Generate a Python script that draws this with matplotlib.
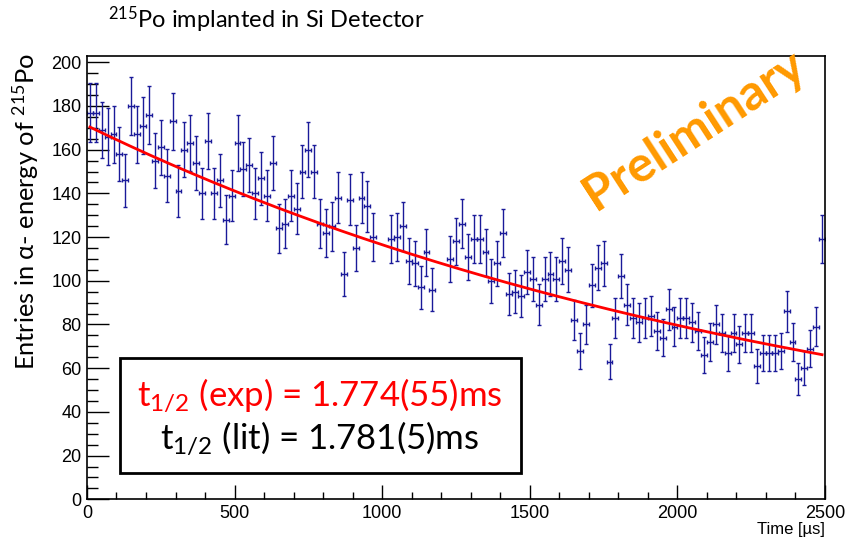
import numpy as np
import matplotlib
matplotlib.use('Agg')
import matplotlib.pyplot as plt
from matplotlib.patches import Rectangle
from matplotlib.ticker import MultipleLocator

plt.rcParams['mathtext.default'] = 'regular'

# histogram: 125 bins of 20 us, counts (nan = no point drawn)
bin_width = 20.0
n_bins = 125
counts = [
    177, 177, 169, 166, 167, 158, 146, 180, 167, 171, 176, 155, 161, 148, 173, 141, 160, 163, 154, 140, 164,
    140, 146, 128, 139, 163, 151, 153, 140, 147, 139, 154, 124, 126, 139, 133, 150, 160, 150, 126, 122, 125,
    138, 103, 137, 115, 138, 134, 120, np.nan, np.nan, 119, 120, 125, 109, 108, 97, 113, 96, np.nan, np.nan, 110, 118,
    126, 111, 119, 119, 113, 100, 108, 122, 94, 95, 93, 104, 101, 89, 101, 103, 101, 109, 105, 82, 68,
    80, 98, 106, 108, 63, 83, 102, 89, 83, 81, 83, 84, 77, 74, 87, 79, 83, 83, 81, 77, 66,
    72, 80, 76, 67, 76, 71, 76, 76, 61, 67, 67, 67, 68, 86, 72, 55, 60, 69, 79, 119,
]

# exponential fit parameters
t_half_exp = 1774.0   # us
fit_amp = 168.5
fit_bkg = 2.5

counts = np.array(counts, dtype=float)
centers = (np.arange(n_bins) + 0.5) * bin_width
errors = np.sqrt(counts)

t_fit = np.linspace(centers[0], centers[-1], 400)
y_fit = fit_amp * 2 ** (-t_fit / t_half_exp) + fit_bkg

fig = plt.figure(figsize=(8.46, 5.38), dpi=100)
ax = fig.add_axes([0.1028, 0.0719, 0.8724, 0.8246])

ax.errorbar(centers, counts, xerr=bin_width / 2, yerr=errors, fmt='none',
            ecolor='#1a1a99', elinewidth=1.0, capsize=1.6, capthick=1.0, zorder=2)
ax.plot(t_fit, y_fit, color='red', lw=2.0, zorder=3)

ax.set_xlim(0, 2500)
ax.set_ylim(0, 203)
ax.xaxis.set_major_locator(MultipleLocator(500))
ax.xaxis.set_minor_locator(MultipleLocator(100))
ax.yaxis.set_major_locator(MultipleLocator(20))
ax.yaxis.set_minor_locator(MultipleLocator(5))
ax.tick_params(axis='x', which='major', direction='in', length=10, width=1, pad=4)
ax.tick_params(axis='x', which='minor', direction='in', length=5, width=1)
ax.tick_params(axis='y', which='major', direction='in', length=16, width=1, pad=4)
ax.tick_params(axis='y', which='minor', direction='in', length=8, width=1)
for lab in ax.get_xticklabels() + ax.get_yticklabels():
    lab.set_family('Liberation Sans')
    lab.set_fontsize(13)
for sp in ax.spines.values():
    sp.set_linewidth(1.2)

# x axis title, ROOT style: right-aligned under the axis end
fig.text(825 / 846, 1 - 529.5 / 538, 'Time [µs]', ha='right', va='center',
         family='Liberation Sans', fontsize=12)

fig.text(0.03, 0.606, r'Entries in α- energy of $^{215}$Po', rotation=90,
         ha='center', va='center', family=['Lato', 'DejaVu Sans'], fontsize=18.3)
fig.text(108 / 846, 1 - 20 / 538, r'$^{215}$Po implanted in Si Detector',
         ha='left', va='center', family='Lato', fontsize=17)

fig.text(0.821, 0.758, 'Preliminary', rotation=33, ha='center', va='center',
         color='#ff9900', fontweight='bold', family='Lato', fontsize=36)

box = Rectangle((120 / 846, 1 - 473 / 538), 401 / 846, 115 / 538, transform=fig.transFigure,
                facecolor='white', edgecolor='black', lw=2.0, zorder=5)
fig.patches.append(box)
fig.text(0.378, 0.265, r't$_{1/2}$ (exp) = 1.774(55)ms', ha='center', va='center',
         color='red', family='Lato', fontsize=25, zorder=6)
fig.text(0.378, 0.185, r't$_{1/2}$ (lit) = 1.781(5)ms', ha='center', va='center',
         color='black', family='Lato', fontsize=25, zorder=6)

fig.savefig('out.png', dpi=100)
